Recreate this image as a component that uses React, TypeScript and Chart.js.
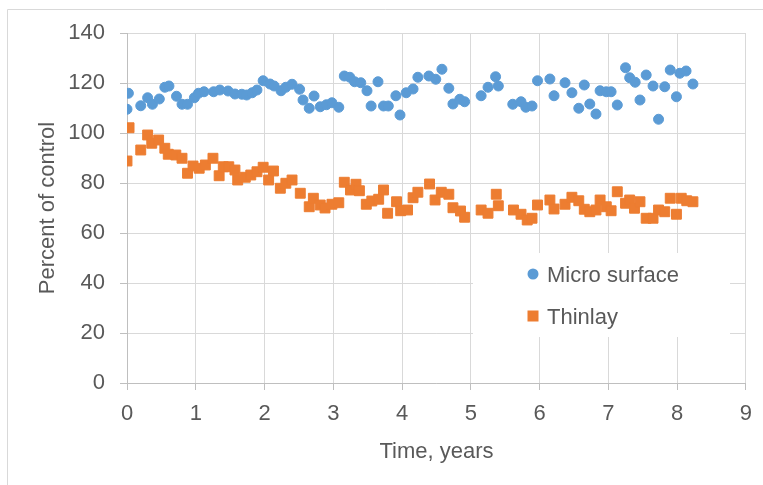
import { useEffect, useRef } from 'react';
import { Chart, registerables } from 'chart.js';

Chart.register(...registerables);

// ---- Data ----
const microX = [
  0.0, 0.02, 0.2, 0.3, 0.37, 0.47, 0.55, 0.61, 0.72, 0.8, 0.88, 0.98, 1.04, 1.12, 1.26, 1.35, 1.47, 1.57,
  1.67, 1.74, 1.82, 1.89, 1.98, 2.08, 2.14, 2.24, 2.31, 2.4, 2.51, 2.56, 2.65, 2.72, 2.81, 2.9, 2.98, 3.08,
  3.16, 3.24, 3.31, 3.4, 3.49, 3.55, 3.65, 3.73, 3.8, 3.91, 3.97, 4.06, 4.16, 4.23, 4.39, 4.49, 4.58, 4.68,
  4.74, 4.84, 4.91, 5.15, 5.25, 5.36, 5.4, 5.61, 5.73, 5.8, 5.89, 5.97, 6.15, 6.21, 6.37, 6.47, 6.57, 6.65,
  6.73, 6.82, 6.88, 6.97, 7.04, 7.13, 7.25, 7.31, 7.39, 7.46, 7.55, 7.65, 7.73, 7.82, 7.9, 7.99, 8.04, 8.13,
  8.23,
];
const microY = [
  109.5, 115.9, 110.9, 114.1, 111.5, 113.6, 118.3, 118.8, 114.7, 111.5, 111.5, 114.1, 115.9, 116.5, 116.5,
  117.2, 116.8, 115.6, 115.5, 115.2, 116.1, 117.2, 120.9, 119.6, 118.8, 116.9, 118.3, 119.5, 117.5, 113.2,
  109.9, 114.8, 110.5, 111.3, 112.1, 110.3, 122.8, 122.3, 120.5, 120.1, 116.9, 110.8, 120.5, 110.8, 110.8,
  114.9, 107.2, 116.1, 117.6, 122.3, 122.8, 121.5, 125.5, 117.9, 111.6, 113.5, 112.5, 114.9, 118.3, 122.5,
  118.8, 111.5, 112.5, 110.3, 110.8, 120.9, 121.6, 114.9, 120.1, 116.1, 109.9, 119.2, 111.6, 107.6, 116.9,
  116.5, 116.5, 111.2, 126.1, 122.1, 120.3, 113.2, 123.2, 118.8, 105.5, 118.5, 125.2, 114.5, 123.9, 124.8,
  119.6,
];
const thinX = [
  0.0, 0.03, 0.2, 0.3, 0.36, 0.46, 0.55, 0.6, 0.71, 0.8, 0.88, 0.96, 1.05, 1.14, 1.25, 1.34, 1.4, 1.48, 1.57,
  1.61, 1.72, 1.8, 1.89, 1.98, 2.06, 2.13, 2.23, 2.31, 2.4, 2.52, 2.65, 2.71, 2.81, 2.88, 2.98, 3.08, 3.16,
  3.25, 3.33, 3.38, 3.48, 3.56, 3.66, 3.73, 3.79, 3.92, 3.98, 4.08, 4.16, 4.23, 4.4, 4.48, 4.57, 4.68, 4.74,
  4.85, 4.91, 5.15, 5.25, 5.37, 5.4, 5.62, 5.73, 5.82, 5.89, 5.97, 6.15, 6.21, 6.37, 6.47, 6.57, 6.65, 6.73,
  6.82, 6.88, 6.97, 7.04, 7.13, 7.25, 7.31, 7.38, 7.46, 7.55, 7.65, 7.73, 7.82, 7.9, 7.99, 8.06, 8.14, 8.23,
];
const thinY = [
  88.8, 102.1, 93.2, 99.2, 95.9, 97.2, 93.9, 91.5, 91.2, 89.9, 83.9, 86.8, 85.9, 87.2, 89.9, 82.9, 86.5, 86.5,
  85.2, 81.2, 82.3, 83.2, 84.5, 86.3, 81.2, 84.8, 77.9, 79.9, 81.2, 75.9, 70.5, 73.9, 71.2, 70.0, 71.5, 72.1,
  80.3, 77.2, 79.5, 76.9, 71.5, 72.8, 73.5, 77.2, 67.9, 72.5, 68.9, 69.2, 74.1, 76.3, 79.6, 73.2, 76.3, 75.5,
  70.1, 68.8, 66.3, 69.2, 67.9, 75.5, 70.9, 69.2, 67.5, 65.2, 65.9, 71.2, 73.2, 69.6, 71.5, 74.3, 72.9, 69.5,
  68.5, 69.2, 73.2, 70.5, 68.9, 76.5, 71.9, 73.2, 69.9, 72.5, 65.9, 65.9, 69.2, 68.5, 73.9, 67.5, 73.9, 72.9,
  72.5,
];
const seriesNames = ['Micro surface', 'Thinlay'];
const xTitle = 'Time, years';
const yTitle = 'Percent of control';
const xMin = 0, xMax = 9, xStep = 1;
const yMin = 0, yMax = 140, yStep = 20;

const BLUE = '#5B9BD5';
const ORANGE = '#ED7D31';
const TEXT = '#595959';
const GRID = '#d9d9d9';
const AXIS = '#bfbfbf';
const FONT = '"Liberation Sans", Arial, sans-serif';

const frameAndLegend = {
  id: 'frameAndLegend',
  afterDraw(chart: any) {
    const ctx = chart.ctx;
    ctx.save();
    // outer frame
    ctx.strokeStyle = GRID;
    ctx.lineWidth = 1;
    ctx.beginPath();
    ctx.moveTo(7.5, 485);
    ctx.lineTo(7.5, 9.5);
    ctx.lineTo(763, 9.5);
    ctx.stroke();
    // legend box
    ctx.fillStyle = '#ffffff';
    ctx.fillRect(473, 253, 257, 84);
    const ds = chart.data.datasets;
    // marker 1: circle
    ctx.fillStyle = ds[0].backgroundColor;
    ctx.beginPath();
    ctx.arc(533, 274, 5.5, 0, Math.PI * 2);
    ctx.fill();
    // marker 2: square
    ctx.fillStyle = ds[1].backgroundColor;
    ctx.fillRect(527.5, 310.5, 11, 11);
    ctx.fillStyle = TEXT;
    ctx.font = `22px ${FONT}`;
    ctx.textBaseline = 'alphabetic';
    ctx.textAlign = 'left';
    ctx.fillText(ds[0].label, 547, 282);
    ctx.fillText(ds[1].label, 547, 324);
    ctx.restore();
  },
};

export default function App() {
  const ref = useRef<HTMLCanvasElement | null>(null);
  useEffect(() => {
    if (!ref.current) return;
    const chart = new Chart(ref.current, {
      type: 'scatter',
      data: {
        datasets: [
          {
            label: seriesNames[0],
            data: microX.map((x, i) => ({ x, y: microY[i] })),
            backgroundColor: BLUE,
            borderColor: BLUE,
            pointStyle: 'circle',
            pointRadius: 5,
            pointBorderWidth: 1,
          },
          {
            label: seriesNames[1],
            data: thinX.map((x, i) => ({ x, y: thinY[i] })),
            backgroundColor: ORANGE,
            borderColor: ORANGE,
            pointStyle: 'rect',
            pointRadius: 7,
            pointBorderWidth: 1,
          },
        ],
      },
      options: {
        animation: false,
        responsive: false,
        maintainAspectRatio: false,
        layout: { padding: { left: 0, right: 17, top: 33, bottom: 0 } },
        plugins: { legend: { display: false }, tooltip: { enabled: false } },
        scales: {
          x: {
            type: 'linear',
            min: xMin,
            max: xMax,
            ticks: { stepSize: xStep, color: TEXT, font: { family: FONT, size: 22 }, padding: 11 },
            grid: { color: GRID, tickColor: AXIS, tickLength: 7, drawTicks: true },
            border: { color: AXIS },
            title: {
              display: true,
              text: xTitle,
              color: TEXT,
              font: { family: FONT, size: 22 },
              padding: { top: 0, bottom: 20 },
            },
            afterFit(s: any) {
              s.height = 102;
            },
          },
          y: {
            type: 'linear',
            min: yMin,
            max: yMax,
            ticks: { stepSize: yStep, color: TEXT, font: { family: FONT, size: 22 }, padding: 15 },
            grid: { color: GRID, tickColor: AXIS, tickLength: 7, drawTicks: true },
            border: { color: AXIS },
            title: {
              display: true,
              text: yTitle,
              color: TEXT,
              font: { family: FONT, size: 22 },
              padding: { top: 35, bottom: 0 },
            },
            afterFit(s: any) {
              s.width = 127;
            },
          },
        },
      },
      plugins: [frameAndLegend],
    });
    return () => chart.destroy();
  }, []);

  return (
    <div style={{ position: 'fixed', left: 0, top: 0, width: 763, height: 485, background: '#fff' }}>
      <canvas ref={ref} width={763} height={485} style={{ display: 'block' }} />
    </div>
  );
}
